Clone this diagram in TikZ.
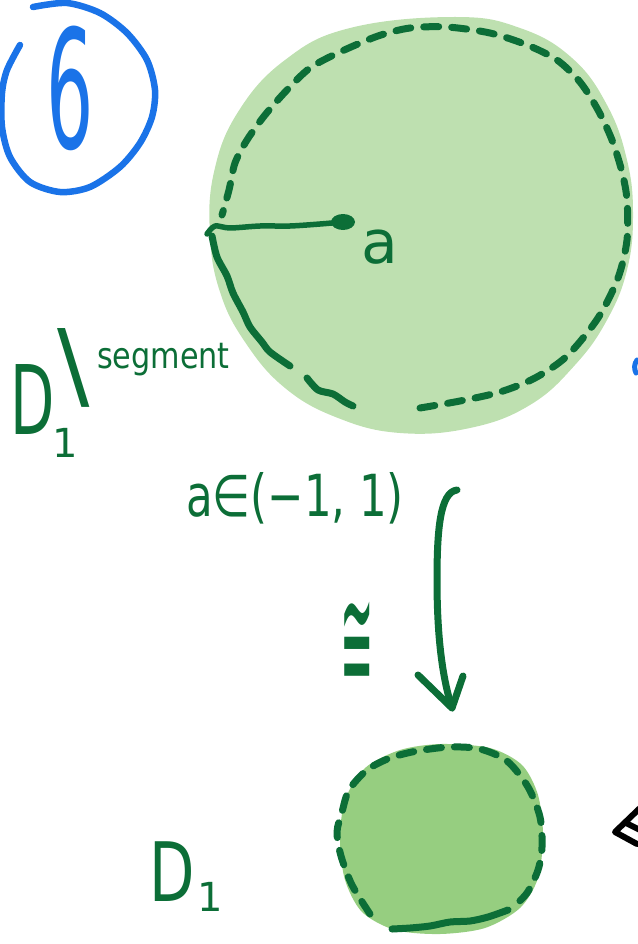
\documentclass[tikz,border=0pt]{standalone}
\usepackage{fontspec}
\setmainfont{DejaVu Sans}
\definecolor{penblue}{RGB}{26,115,232}
\definecolor{pengreen}{RGB}{12,110,55}
\definecolor{bigfill}{RGB}{190,224,176}
\definecolor{smallfill}{RGB}{150,206,128}
\begin{document}
\begin{tikzpicture}[x=1pt,y=-1pt,line cap=round,line join=round,
  pen/.style={draw=pengreen,line width=7pt},
  dashpen/.style={pen,dash pattern=on 15pt off 13pt},
  bluepen/.style={draw=penblue,line width=6.5pt},
  lbl/.style={text=pengreen,inner sep=0pt}]
\useasboundingbox (0,0) rectangle (637,944);
% circled 6
\draw[bluepen] plot[smooth] coordinates {(33,7) (67,3) (100,13) (127,33) (147,60) (155,90) (152,117) (140,143) (120,167) (90,187) (60,192) (30,182) (10,157) (2,127) (2,93) (7,70) (20,45)};
\node[text=penblue,inner sep=0pt] (six) at (70,88) {\fontsize{165}{165}\selectfont\scalebox{0.45}[1]{6}};
% big disk
\coordinate (bigc) at (420,222);
\fill[bigfill] plot[smooth cycle,tension=0.7] coordinates {(455,17) (520,28) (572,58) (607,105) (627,160) (633,215) (627,270) (607,320) (575,365) (530,405) (470,428) (400,433) (338,418) (285,388) (245,342) (220,292) (210,235) (214,172) (238,112) (285,60) (350,28)};
\draw[dashpen] plot[smooth] coordinates {(420,408) (460,401) (500,392) (535,378) (567,356) (598,318) (618,278) (627,240) (627,200) (622,172) (612,140) (598,110) (580,82) (557,60) (527,45) (490,33) (447,27) (410,28) (378,36) (340,52) (310,68) (287,90) (265,115) (247,140) (235,163) (229,190) (222,215)};
\draw[pen] plot[smooth] coordinates {(212,236) (217,257) (227,276) (233,293) (243,312) (250,327) (262,342) (270,352) (290,366)};
\draw[pen] plot[smooth] coordinates {(307,378) (318,390) (333,394) (345,402) (353,406)};
% radius segment
\coordinate (rad0) at (207,234);
\coordinate (rad1) at (343,222);
\draw[pen,line width=5.5pt] plot[smooth] coordinates {(rad0) (215,226) (230,228) (260,226) (290,226) (320,224) (rad1)};
\fill[pengreen] (rad1) ellipse (12 and 8);
\node[lbl] (alab) at (380,247) {\fontsize{60}{60}\selectfont a};
% D_1 \ segment
\node[lbl] (D1) at (33,400) {\fontsize{96}{96}\selectfont\scalebox{0.6}[1]{D}};
\node[lbl] (sub1) at (65,443) {\fontsize{40}{40}\selectfont 1};
\node[lbl] (bs) at (74,368) {\fontsize{96}{96}\selectfont\textbackslash};
\node[lbl,anchor=base west] (seg) at (97,368) {\fontsize{36}{36}\selectfont\scalebox{0.84}[1]{segment}};
% range
\node[lbl] (range) at (295,498) {\fontsize{58}{58}\selectfont\scalebox{0.75}[1]{a∈(−1, 1)}};
% arrow
\coordinate (arrS) at (457,490);
\coordinate (arrE) at (452,708);
\draw[pen] (arrS) .. controls (440,492) and (437,530) .. (437,580) .. controls (437,640) and (443,680) .. (arrE);
\draw[pen] (418,675) -- (arrE) -- (463,676);
\node[lbl] (iso) at (357,646) {\fontsize{95}{95}\selectfont\scalebox{0.42}[1.55]{≅}};
% small disk
\coordinate (smallc) at (441,838);
\fill[smallfill] plot[smooth cycle] coordinates {(441,744) (490,748) (522,765) (538,795) (543,835) (538,878) (520,908) (485,928) (440,934) (395,930) (362,912) (345,880) (340,840) (345,800) (365,768) (400,750)};
\draw[dashpen] plot[smooth] coordinates {(370,914) (352,885) (341,856) (337,832) (342,812) (349,790) (367,770) (390,758) (417,751) (450,747) (480,749) (507,761) (528,787) (540,817) (542,847) (538,870) (527,893) (512,908)};
\draw[pen] plot[smooth] coordinates {(508,910) (488,917) (470,921) (450,922) (430,926) (410,928) (392,929)};
\node[lbl] (D2) at (172,872) {\fontsize{82}{82}\selectfont\scalebox{0.72}[1]{D}};
\node[lbl] (sub2) at (210,897) {\fontsize{40}{40}\selectfont 1};
% partial marks at the right edge
\draw[black,line width=6pt] (640,808) -- (615,832) -- (637,844);
\draw[black,line width=6pt] (626,823) -- (640,830);
\draw[penblue,line width=5pt] (637,360) .. controls (634,364) and (634,369) .. (636,373);
\end{tikzpicture}
\end{document}
